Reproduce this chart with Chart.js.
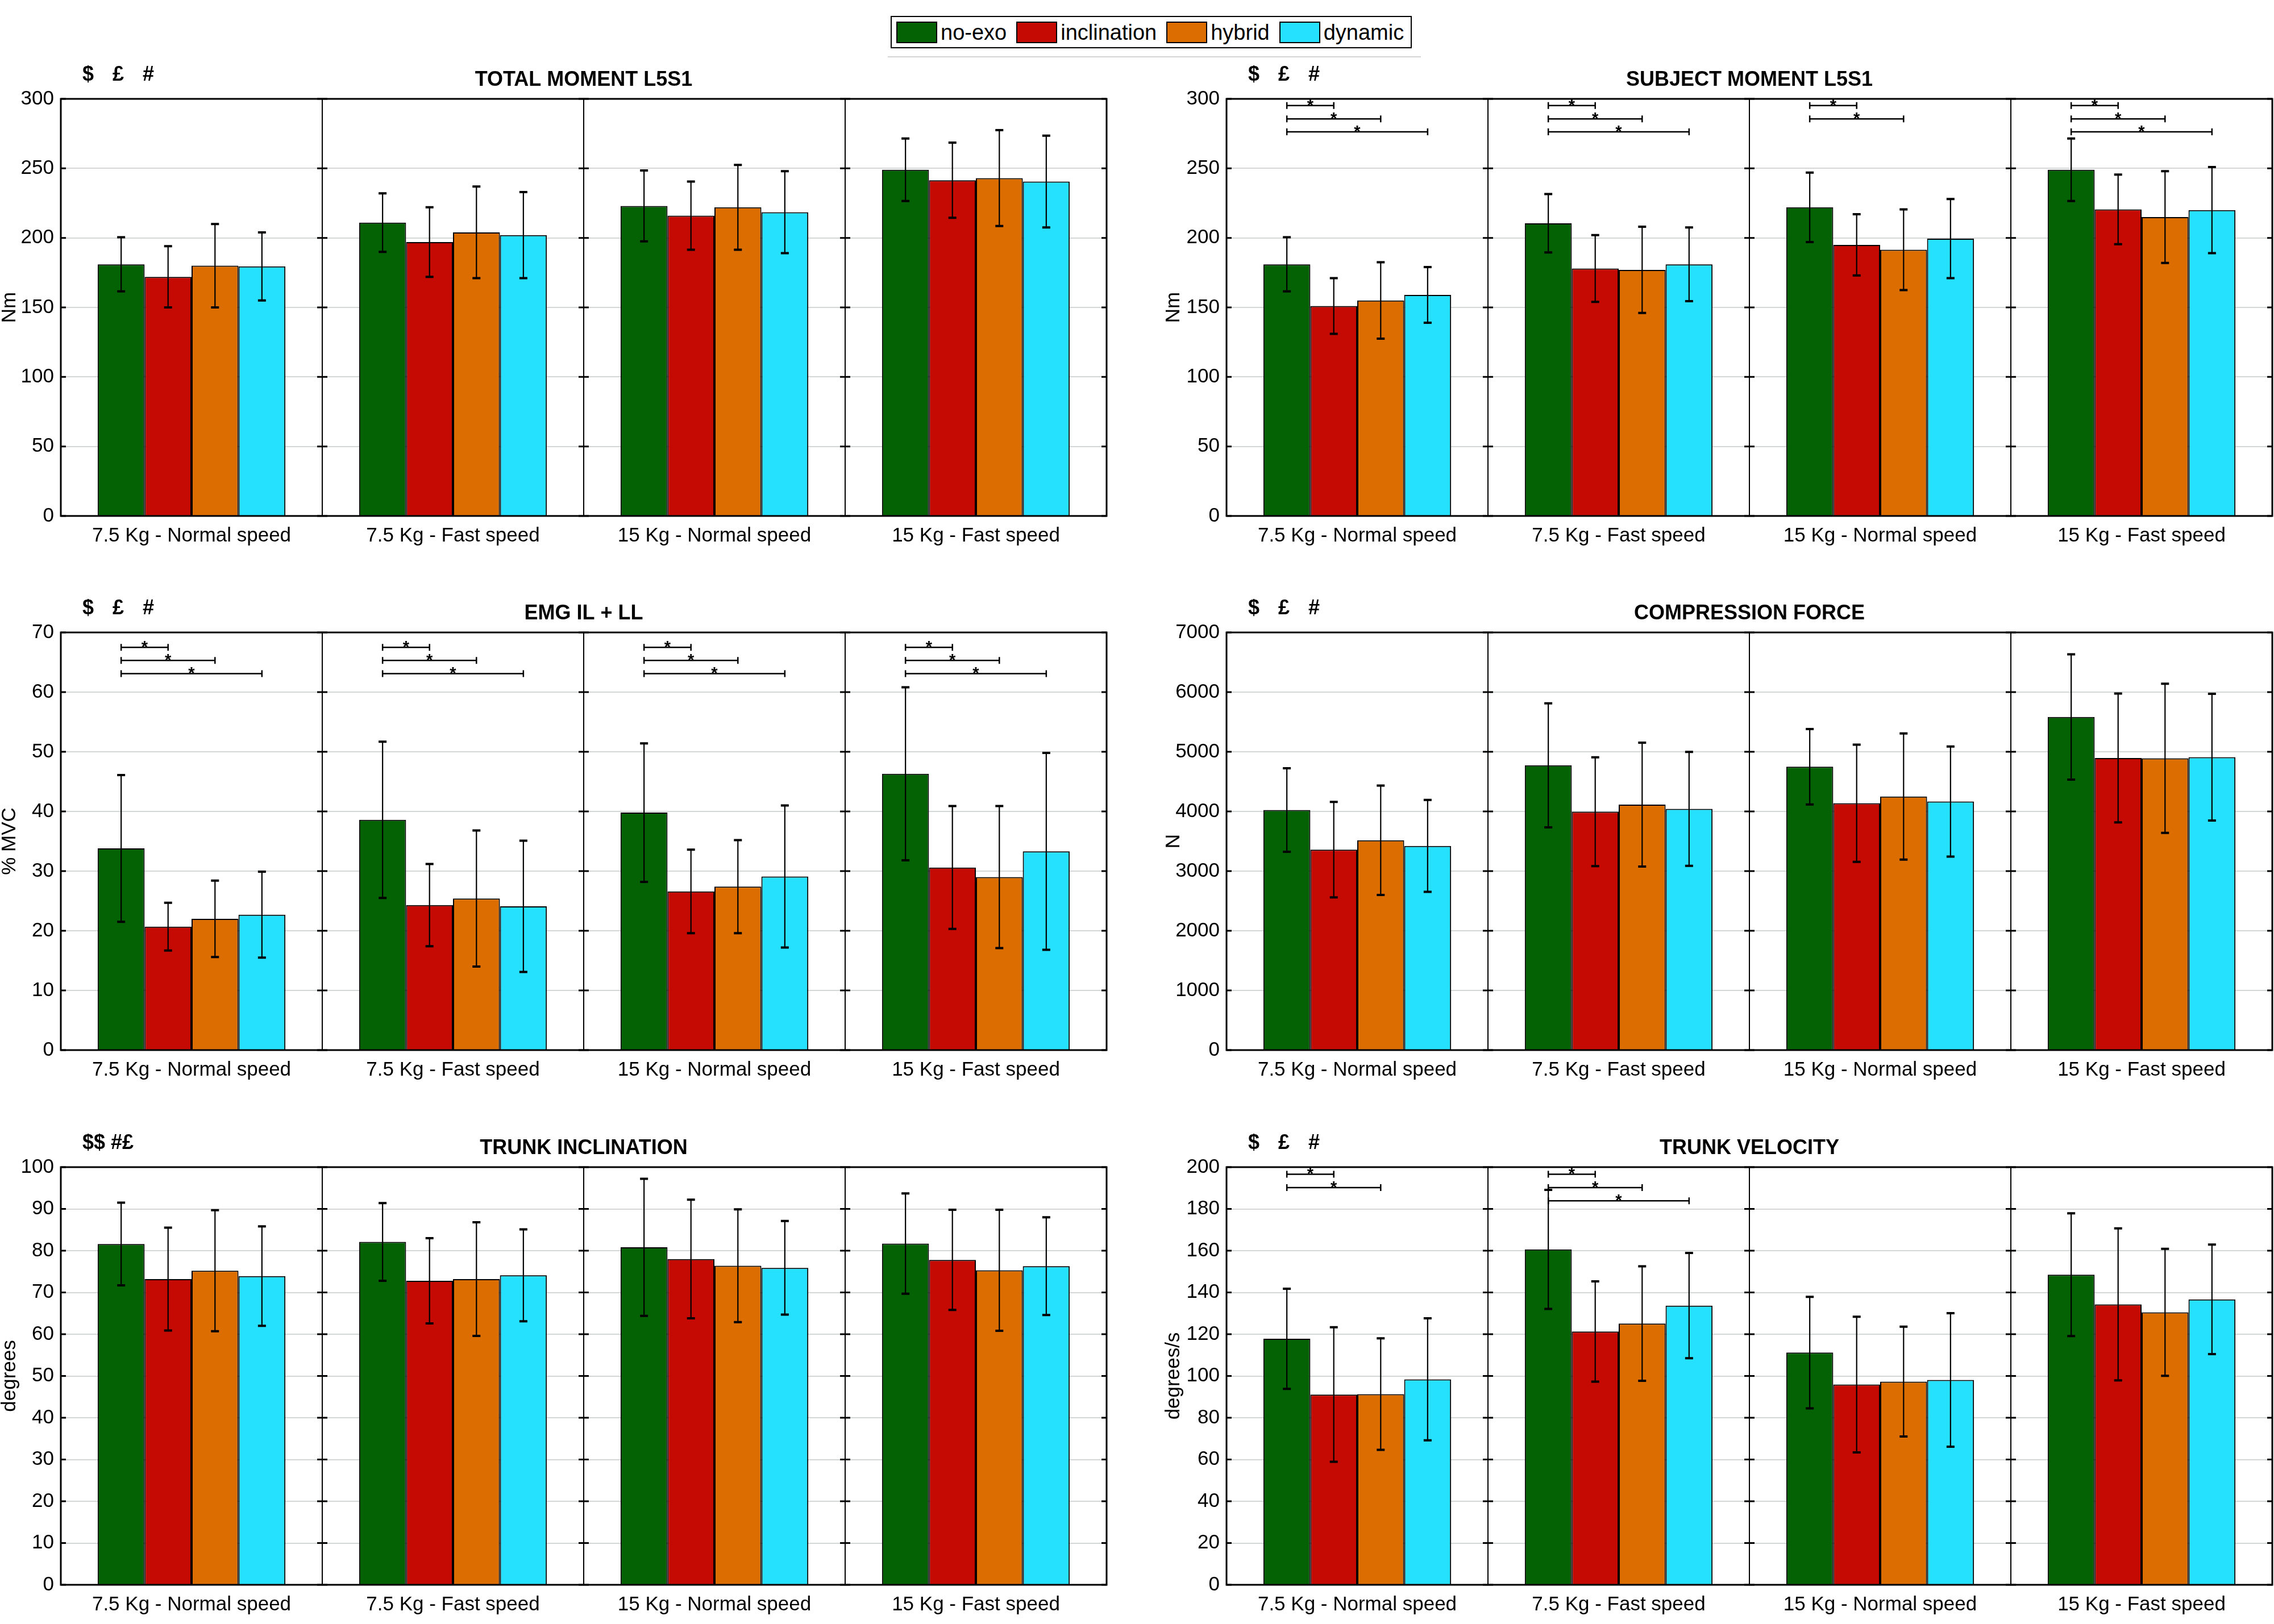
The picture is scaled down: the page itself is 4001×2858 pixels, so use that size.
<!DOCTYPE html>
<html>
<head>
<meta charset="utf-8">
<script src="https://cdn.jsdelivr.net/npm/chart.js@4.4.0/dist/chart.umd.min.js"></script>
<style>
  body { margin: 0; background: #fff; width: 4001px; height: 2858px; position: relative; overflow: hidden;
         font-family: "Liberation Sans", Arial, sans-serif; }
  canvas.panel { position: absolute; }
  #legend { position: absolute; left: 1567px; top: 28px; height: 57px; border: 2px solid #000; box-sizing: border-box;
            display: flex; align-items: center; padding: 0 12px 0 8px; background: #fff; }
  #legend .sw { width: 72px; height: 38px; border: 2px solid #000; box-sizing: border-box; margin-right: 6px; }
  #legend .lb { font-size: 38px; margin-right: 17px; line-height: 1; }
  #legend .lb:last-child { margin-right: 0; }
  #legend-rule { position: absolute; left: 1562px; top: 99px; width: 938px; height: 2px; background: #d4d4d4; }
</style>
</head>
<body>
<div id="legend-rule"></div>
<div id="legend"></div>

<script>
// ---- data ----
const groups     = ["7.5 Kg - Normal speed", "7.5 Kg - Fast speed", "15 Kg - Normal speed", "15 Kg - Fast speed"];
const conditions = ["no-exo", "inclination", "hybrid", "dynamic"];
const colors     = ["#046104", "#c40a03", "#dc6d00", "#25e1fe"];

// means / sd per condition (rows) x group (columns)
const totalMomentMean = [[181, 211, 223, 249], [172, 197, 216, 241.5], [180, 204, 222, 243], [179.5, 202, 218.5, 240.5]];
const totalMomentSd   = [[19.5, 21, 25.5, 22.5], [22, 25, 24.5, 27], [30, 33, 30.5, 34.5], [24.5, 31, 29.5, 33]];

const subjectMomentMean = [[181, 210.5, 222, 249], [151, 178, 195, 220.5], [155, 177, 191.5, 215], [159, 181, 199.5, 220]];
const subjectMomentSd   = [[19.5, 21, 25, 22.5], [20, 24, 22, 25], [27.5, 31, 29, 33], [20, 26.5, 28.5, 31]];

const emgMean = [[33.8, 38.6, 39.8, 46.3], [20.7, 24.3, 26.6, 30.6], [22, 25.4, 27.4, 29], [22.7, 24.1, 29.1, 33.3]];
const emgSd   = [[12.3, 13.1, 11.6, 14.5], [4, 6.9, 7, 10.3], [6.4, 11.4, 7.8, 11.9], [7.2, 11, 11.9, 16.5]];

const compressionMean = [[4024, 4773, 4749, 5583], [3360, 3995, 4137, 4896], [3517, 4114, 4251, 4891], [3422, 4043, 4166, 4910]];
const compressionSd   = [[700, 1040, 632, 1050], [800, 912, 983, 1080], [917, 1038, 1057, 1250], [770, 955, 922, 1062]];

const inclinationMean = [[81.6, 82.1, 80.8, 81.7], [73.2, 72.8, 78, 77.8], [75.2, 73.2, 76.4, 75.3], [73.9, 74.1, 75.9, 76.3]];
const inclinationSd   = [[9.9, 9.3, 16.4, 12], [12.3, 10.2, 14.2, 12], [14.5, 13.6, 13.5, 14.5], [11.9, 11, 11.2, 11.7]];

const velocityMean = [[117.8, 160.6, 111.2, 148.5], [91.1, 121.3, 95.9, 134.3], [91.3, 125.1, 97.3, 130.5], [98.4, 133.7, 98.1, 136.7]];
const velocitySd   = [[24, 28.5, 26.7, 29.4], [32.2, 24, 32.5, 36.4], [26.7, 27.4, 26.3, 30.4], [29.2, 25.2, 32, 26.2]];

// significance brackets: [group, compared condition, y value]
const subjectMomentSig = [[0,1,295.2],[0,2,285.6],[0,3,276.3],[1,1,295.2],[1,2,285.6],[1,3,276.3],
                          [2,1,295.2],[2,2,285.6],[3,1,295.2],[3,2,285.6],[3,3,276.3]];
const emgSig = [[0,1,67.5],[0,2,65.3],[0,3,63.1],[1,1,67.5],[1,2,65.3],[1,3,63.1],
                [2,1,67.5],[2,2,65.3],[2,3,63.1],[3,1,67.5],[3,2,65.3],[3,3,63.1]];
const velocitySig = [[0,1,196.6],[0,2,190.2],[1,1,196.6],[1,2,190.2],[1,3,183.9]];

// ---- layout ----
const FONT = '"Liberation Sans", Arial, sans-serif';
const COLS = [
  { canvasLeft: 0,    plotLeft: 107,  plotRight: 1947, canvasRight: 1962 },
  { canvasLeft: 2048, plotLeft: 2158, plotRight: 3998, canvasRight: 4001 },
];
const ROWS = [ { top: 174, bottom: 908 }, { top: 1113, bottom: 1848 }, { top: 2054, bottom: 2789 } ];
const HEAD = 100, FOOT = 62;

/** error bars, significance brackets, frame, separator ticks, title */
const panelDecor = {
  id: "panelDecor",
  afterDatasetsDraw(chart, args, opts) {
    const { ctx, chartArea: a, scales: { x, y } } = chart;
    ctx.save();
    ctx.strokeStyle = "#000";
    ctx.fillStyle = "#000";

    // error bars
    chart.data.datasets.forEach((ds, di) => {
      chart.getDatasetMeta(di).data.forEach((bar, gi) => {
        const m = ds.data[gi], s = opts.sd[di][gi];
        const yt = y.getPixelForValue(m + s), yb = y.getPixelForValue(m - s);
        ctx.lineWidth = 2.2;
        ctx.beginPath(); ctx.moveTo(bar.x, yt); ctx.lineTo(bar.x, yb); ctx.stroke();
        ctx.lineWidth = 4;
        ctx.beginPath();
        ctx.moveTo(bar.x - 7, yt); ctx.lineTo(bar.x + 7, yt);
        ctx.moveTo(bar.x - 7, yb); ctx.lineTo(bar.x + 7, yb);
        ctx.stroke();
      });
    });

    // significance brackets
    ctx.font = "bold 29px " + FONT;
    ctx.textAlign = "center";
    ctx.textBaseline = "alphabetic";
    (opts.sig || []).forEach(([g, t, v]) => {
      const x0 = chart.getDatasetMeta(0).data[g].x;
      const x1 = chart.getDatasetMeta(t).data[g].x;
      const yy = y.getPixelForValue(v);
      ctx.lineWidth = 2.5;
      ctx.beginPath();
      ctx.moveTo(x0, yy); ctx.lineTo(x1, yy);
      ctx.moveTo(x0, yy - 6); ctx.lineTo(x0, yy + 6);
      ctx.moveTo(x1, yy - 6); ctx.lineTo(x1, yy + 6);
      ctx.stroke();
      ctx.fillText("*", (x0 + x1) / 2, yy + 9);
    });

    // inward ticks on every group edge
    const cat = a.width / chart.data.labels.length;
    ctx.lineWidth = 3;
    ctx.beginPath();
    y.ticks.forEach(t => {
      const py = y.getPixelForValue(t.value);
      for (let k = 0; k <= chart.data.labels.length; k++) {
        const px = a.left + k * cat;
        ctx.moveTo(Math.max(a.left, px - 9), py);
        ctx.lineTo(Math.min(a.right, px + 9), py);
      }
    });
    ctx.stroke();

    // frame
    ctx.lineWidth = 3;
    ctx.strokeRect(a.left, a.top, a.right - a.left, a.bottom - a.top);

    // title and markers
    ctx.textBaseline = "middle";
    ctx.font = "bold 36px " + FONT;
    ctx.textAlign = "center";
    ctx.fillText(opts.title, (a.left + a.right) / 2, a.top - 33);
    ctx.textAlign = "left";
    opts.markers.forEach((m, i) => ctx.fillText(m, a.left + 38 + i * 53, a.top - 42));
    ctx.restore();
  }
};

function makePanel(col, row, cfg) {
  const c = COLS[col], r = ROWS[row];
  const cv = document.createElement("canvas");
  cv.className = "panel";
  const w = c.canvasRight - c.canvasLeft;
  const h = (r.bottom - r.top) + HEAD + FOOT;
  cv.width = w; cv.height = h;
  cv.style.left = c.canvasLeft + "px";
  cv.style.top = (r.top - HEAD) + "px";
  cv.style.width = w + "px"; cv.style.height = h + "px";
  document.body.appendChild(cv);

  const yWidth = c.plotLeft - c.canvasLeft;
  new Chart(cv, {
    type: "bar",
    data: {
      labels: groups,
      datasets: conditions.map((name, i) => ({
        label: name,
        data: cfg.mean[i],
        backgroundColor: colors[i],
        borderColor: "#000",
        borderWidth: 2,
        categoryPercentage: 0.718,
        barPercentage: 1,
      })),
    },
    options: {
      responsive: false,
      animation: false,
      devicePixelRatio: 1,
      layout: { padding: { top: HEAD, right: c.canvasRight - c.plotRight, left: 0, bottom: 0 } },
      plugins: {
        legend: { display: false },
        tooltip: { enabled: false },
        panelDecor: { sd: cfg.sd, sig: cfg.sig, title: cfg.title, markers: cfg.markers },
      },
      scales: {
        x: {
          grid: { offset: true, color: "#000", lineWidth: 2, drawTicks: false },
          border: { display: false },
          ticks: { color: "#000", font: { size: 35, family: FONT }, padding: 14, maxRotation: 0, autoSkip: false },
          afterFit: s => { s.height = FOOT; },
        },
        y: {
          min: 0, max: cfg.max,
          grid: { color: "#d3d7d7", lineWidth: 2, drawTicks: false },
          border: { display: false },
          ticks: { stepSize: cfg.step, color: "#000", font: { size: 35, family: FONT }, padding: 12,
                   callback: v => String(v) },
          title: { display: true, text: cfg.yTitle, color: "#000", font: { size: 35, family: FONT, lineHeight: 1 }, padding: 0 },
          afterFit: s => { s.width = yWidth; },
        },
      },
    },
    plugins: [panelDecor],
  });
}

const sigMarks = ["$", "£", "#"];

makePanel(0, 0, { title: "TOTAL MOMENT L5S1", markers: sigMarks, yTitle: "Nm", max: 300, step: 50,
                  mean: totalMomentMean, sd: totalMomentSd });
makePanel(1, 0, { title: "SUBJECT MOMENT L5S1", markers: sigMarks, yTitle: "Nm", max: 300, step: 50,
                  mean: subjectMomentMean, sd: subjectMomentSd, sig: subjectMomentSig });
makePanel(0, 1, { title: "EMG IL + LL", markers: sigMarks, yTitle: "% MVC", max: 70, step: 10,
                  mean: emgMean, sd: emgSd, sig: emgSig });
makePanel(1, 1, { title: "COMPRESSION FORCE", markers: sigMarks, yTitle: "N", max: 7000, step: 1000,
                  mean: compressionMean, sd: compressionSd });
makePanel(0, 2, { title: "TRUNK INCLINATION", markers: ["$$ #£"], yTitle: "degrees", max: 100, step: 10,
                  mean: inclinationMean, sd: inclinationSd });
makePanel(1, 2, { title: "TRUNK VELOCITY", markers: sigMarks, yTitle: "degrees/s", max: 200, step: 20,
                  mean: velocityMean, sd: velocitySd, sig: velocitySig });

// shared legend
document.getElementById("legend").innerHTML = conditions.map((name, i) =>
  `<div class="sw" style="background:${colors[i]}"></div><span class="lb">${name}</span>`).join("");
</script>
</body>
</html>
